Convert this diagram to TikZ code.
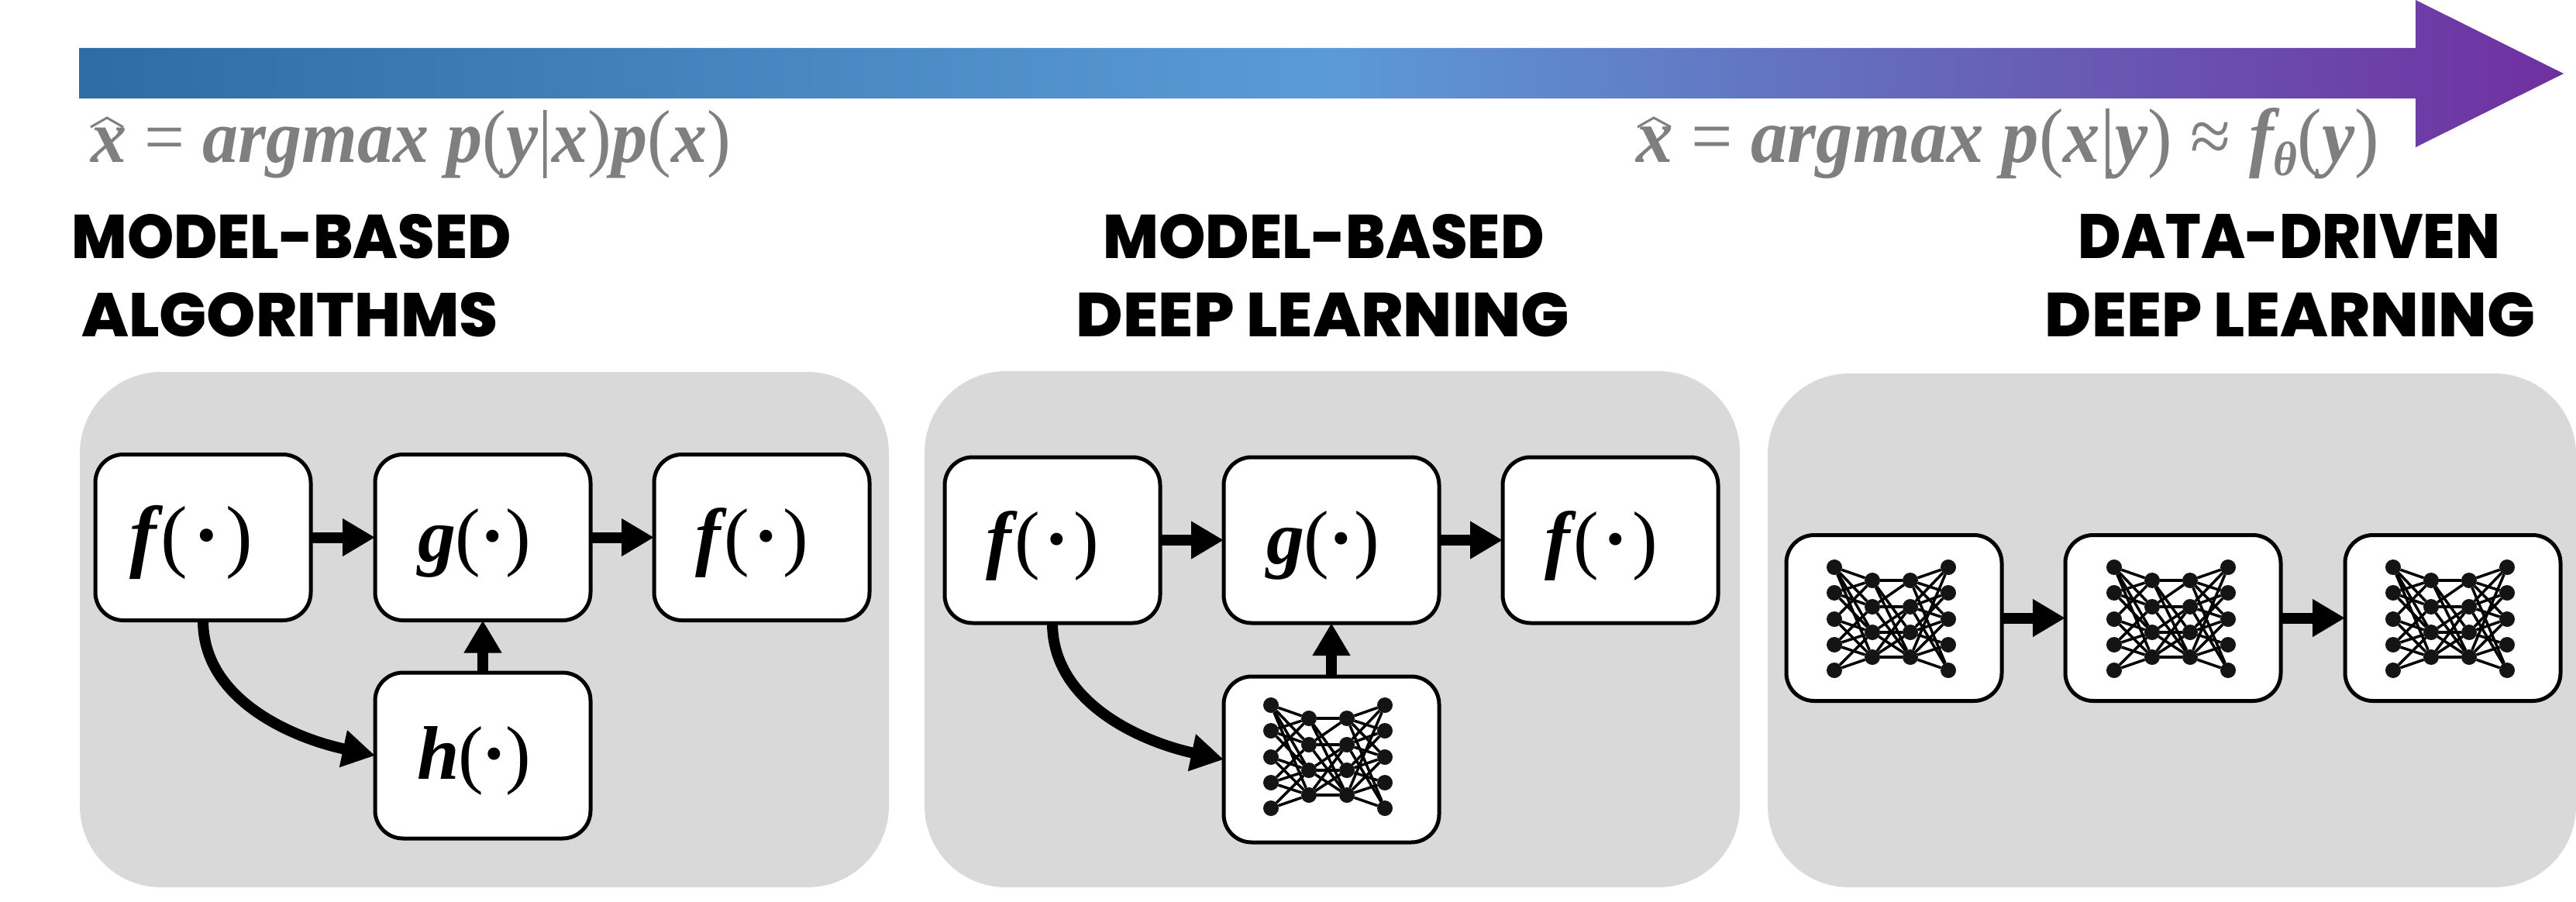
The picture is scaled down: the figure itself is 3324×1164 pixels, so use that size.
\documentclass[tikz,border=0pt]{standalone}
\usepackage{fontspec}
\usepackage{graphicx}
\setmainfont{Liberation Serif}
\newfontfamily\titlef{Poppins}[UprightFont=* ExtraBold,BoldFont=* ExtraBold]
\usetikzlibrary{arrows.meta}
\definecolor{panelgray}{HTML}{D9D9D9}
\definecolor{formulagray}{HTML}{7F7F7F}
\definecolor{gradA}{HTML}{2E6CA5}
\definecolor{gradB}{HTML}{5B9BD5}
\definecolor{gradC}{HTML}{7030A0}
\tikzset{
  panel/.style={fill=panelgray,rounded corners=105pt},
  fnbox/.style={draw=black,fill=white,line width=5pt,rounded corners=36pt,minimum width=278pt,minimum height=214pt,inner sep=0pt,outer sep=0pt},
  flow/.style={line width=14pt,-{Triangle[length=42pt,width=46pt]}},
  neuron/.style={circle,fill=black!92,minimum size=20pt,inner sep=0pt,outer sep=0pt},
  wire/.style={line width=3.5pt,black},
  hatmark/.style={draw=formulagray,line width=3pt,line join=miter},
  titletext/.style={inner sep=0pt,outer sep=0pt,text=black},
  formula/.style={inner sep=0pt,outer sep=0pt,anchor=base west,text=formulagray}
}
% #1 letter, #2 extra height (moves the text down by half of it), #3 font size, #4 letter kern (em), #5 inner kern (em), #6 shift reserve
\newcommand{\fnlabel}[6]{\raisebox{0pt}[\dimexpr\height+#2\relax]{\fontsize{#3}{#3}\selectfont{\bfseries\itshape #1}\kern#4em(\kern#5em{\bfseries\textperiodcentered}\kern#5em)\hspace{#6}}}
\newcommand{\titleline}[3]{\resizebox{#1}{#2}{\titlef\bfseries #3}}
\newcommand{\bi}[1]{{\bfseries\itshape #1}}
% network drawn inside a box: #1 prefix, #2 left of box, #3 top of net
\newcommand{\nnet}[3]{%
  \foreach \i/\yy in {1/0,2/33,3/67,4/100,5/133}{
    \node[neuron] (#1a\i) at ({#2+62},{#3+\yy}) {};
    \node[neuron] (#1d\i) at ({#2+209},{#3+\yy}) {};
  }
  \foreach \i/\yy in {1/17,2/51,3/84,4/116}{
    \node[neuron] (#1b\i) at ({#2+111},{#3+\yy}) {};
    \node[neuron] (#1c\i) at ({#2+160},{#3+\yy}) {};
  }
  \foreach \p/\q in {1/1,1/2,1/3,1/4,2/1,2/2,2/3,3/1,3/3,3/4,4/2,4/3,4/4,5/3,5/4}
    \draw[wire] (#1a\p) -- (#1b\q);
  \foreach \p/\q in {1/1,1/3,1/4,2/1,2/2,2/4,3/2,3/3,3/4,4/2,4/3,4/4}
    \draw[wire] (#1b\p) -- (#1c\q);
  \foreach \p/\q in {1/1,1/2,1/3,1/5,2/1,2/2,2/3,2/5,3/2,3/3,3/4,4/1,4/3,4/4,4/5}
    \draw[wire] (#1c\p) -- (#1d\q);
}
\begin{document}
\begin{tikzpicture}[x=1pt,y=-1pt]
\useasboundingbox (0,0) rectangle (3324,1164);
% gradient arrow
\shade[left color=gradA,right color=gradC,middle color=gradB]
  (102,62) -- (3117,62) -- (3117,0) -- (3308,95) -- (3117,190) -- (3117,127) -- (102,127) -- cycle;
% formulas
\node[formula] (leftformula) at (117,209) {\scalebox{1}[1.05]{\resizebox{826pt}{!}{\fontsize{80}{96}\selectfont \bi{x} = \bi{argmax p}(\bi{y}|\bi{x})\bi{p}(\bi{x})}}};
\node[formula] (rightformula) at (2111,209) {\scalebox{1}[1.05]{\resizebox{959pt}{!}{\fontsize{80}{96}\selectfont \bi{x} = \bi{argmax p}(\bi{x}|\bi{y}) ≈ \bi{f}\raisebox{-14pt}{\fontsize{50}{50}\selectfont\bi{θ}}(\bi{y})}}};
\draw[hatmark] (117,164) -- (138,152) -- (159,164);
\draw[hatmark] (2113,164) -- (2134,152) -- (2156,164);
% titles
\node[titletext] (t1a) at (376,305) {\titleline{567pt}{57pt}{MODEL-BASED}};
\node[titletext] (t1b) at (374,406) {\titleline{537pt}{57pt}{ALGORITHMS}};
\node[titletext] (t2a) at (1708,305) {\titleline{569pt}{57pt}{MODEL-BASED}};
\node[titletext] (t2b) at (1707,406) {\titleline{636pt}{57pt}{DEEP LEARNING}};
\node[titletext] (t3a) at (2954,305) {\titleline{544pt}{57pt}{DATA-DRIVEN}};
\node[titletext] (t3b) at (2955,406) {\titleline{632pt}{57pt}{DEEP LEARNING}};
% panels
\fill[panel] (103,480) rectangle (1147,1145);
\fill[panel] (1193,479) rectangle (2245,1145);
\fill[panel] (2281,482) rectangle (3324,1145);
% panel 1
\node[fnbox] (f1) at (262,693.5) {\fnlabel{f}{12pt}{104}{.05}{.07}{30pt}};
\node[fnbox] (g1) at (623,693.5) {\fnlabel{g}{14pt}{98}{-.01}{.0}{22pt}};
\node[fnbox] (f2) at (983,693.5) {\fnlabel{f}{14pt}{98}{.05}{.05}{26pt}};
\node[fnbox] (h1) at (623,975) {\fnlabel{h}{14pt}{98}{-.02}{-.02}{22pt}};
\draw[flow] (f1) -- (g1);
\draw[flow] (g1) -- (f2);
\draw[flow] (h1) -- (g1);
\draw[flow] (f1.south) to[out=-90,in=168,looseness=.95] (h1.west);
% panel 2
\node[fnbox] (f3) at (1358,697) {\fnlabel{f}{14pt}{98}{.05}{.05}{26pt}};
\node[fnbox] (g2) at (1718,697) {\fnlabel{g}{14pt}{98}{-.01}{.0}{22pt}};
\node[fnbox] (f4) at (2078,697) {\fnlabel{f}{14pt}{98}{.05}{.05}{24pt}};
\node[fnbox] (n1) at (1718,980) {};
\nnet{u}{1578}{910}
\draw[flow] (f3) -- (g2);
\draw[flow] (g2) -- (f4);
\draw[flow] (n1) -- (g2);
\draw[flow] (f3.south) to[out=-90,in=168,looseness=.95] (n1.west);
% panel 3
\node[fnbox] (n2) at (2444,797.5) {};
\node[fnbox] (n3) at (2804,797.5) {};
\node[fnbox] (n4) at (3165,797.5) {};
\nnet{v}{2305}{732}
\nnet{w}{2666}{732}
\nnet{z}{3026}{732}
\draw[flow] (n2) -- (n3);
\draw[flow] (n3) -- (n4);
\end{tikzpicture}
\end{document}
